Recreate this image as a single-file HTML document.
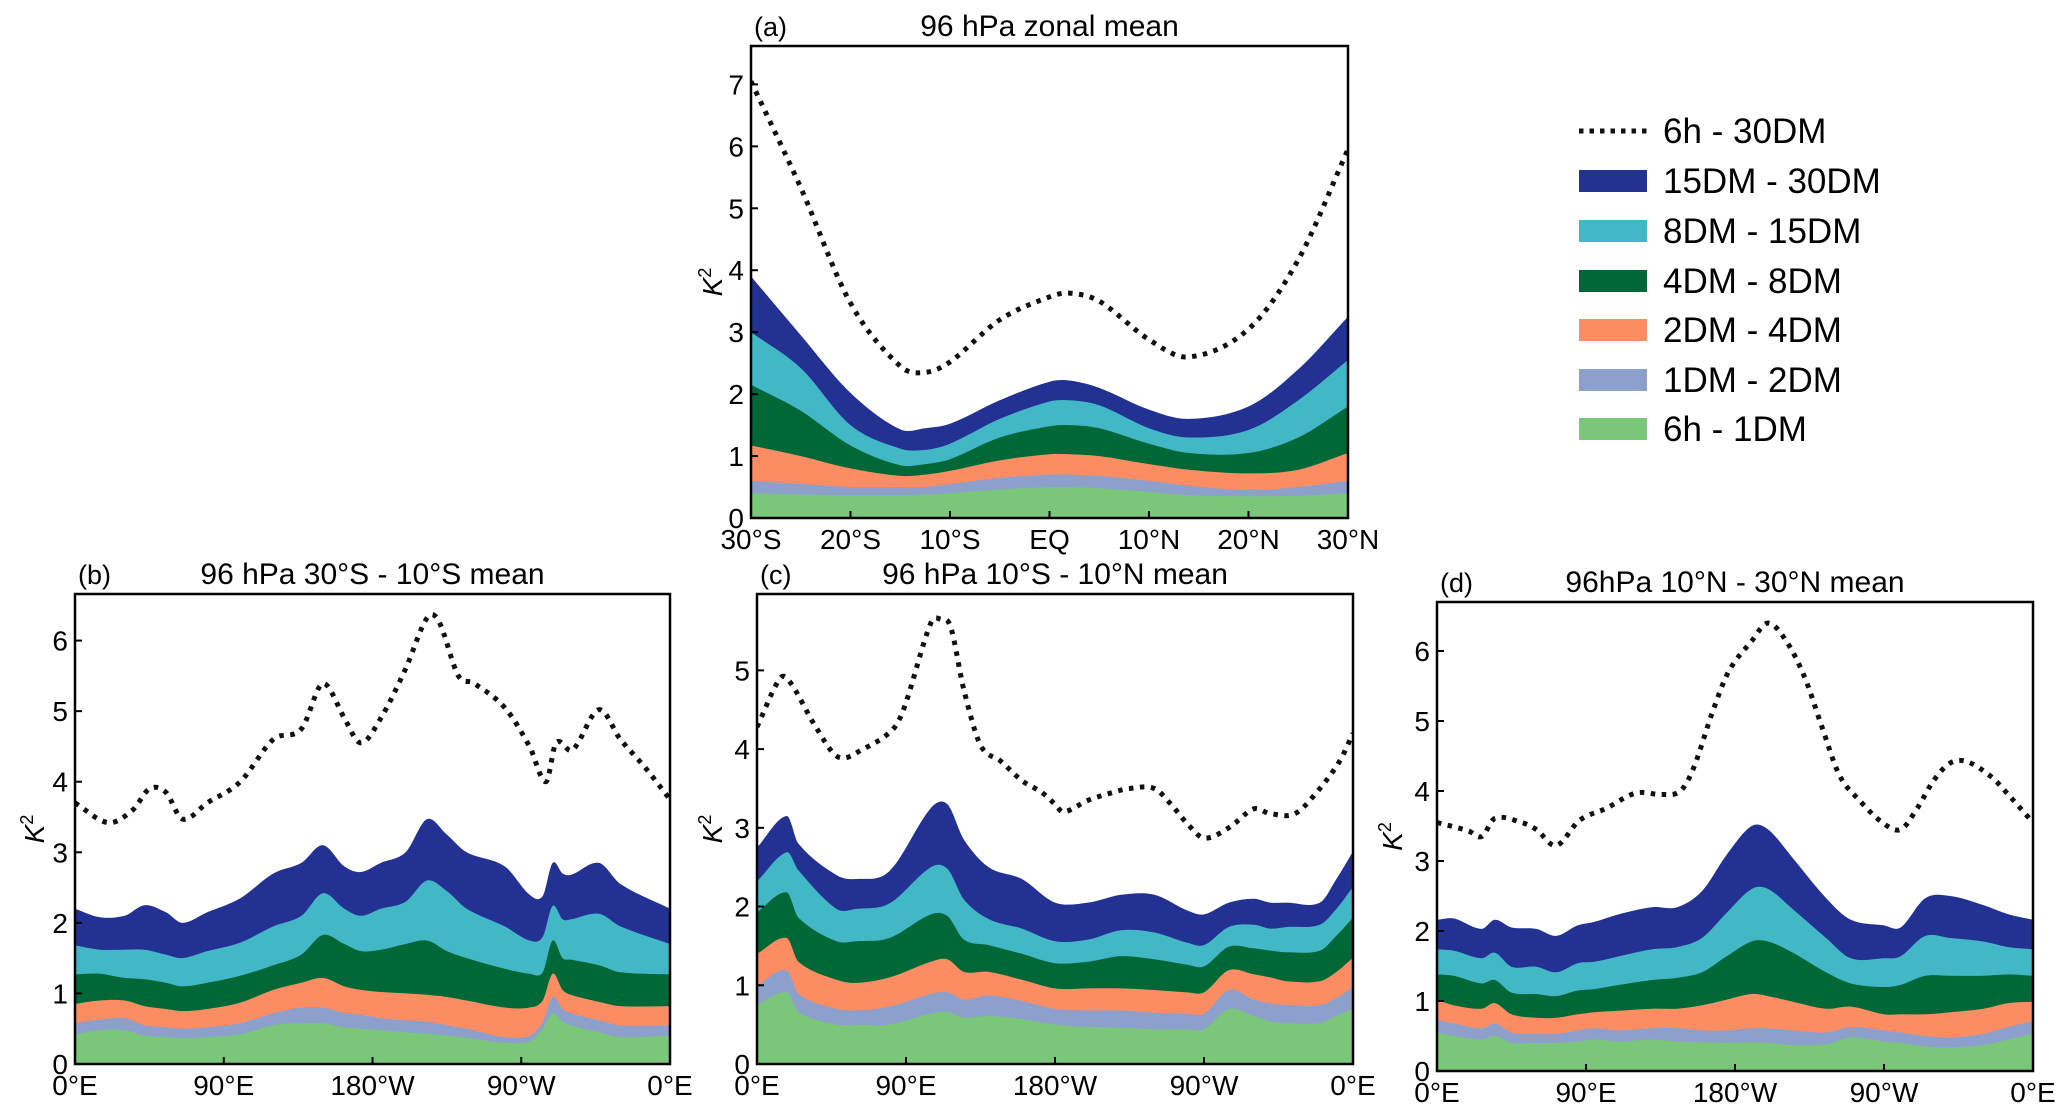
<!DOCTYPE html>
<html><head><meta charset="utf-8">
<style>
html,body{margin:0;padding:0;background:#fff;}
svg{display:block;font-family:"Liberation Sans","DejaVu Sans",sans-serif;}
</style></head>
<body>
<svg id="fig" width="2067" height="1116" viewBox="0 0 2067 1116" xmlns="http://www.w3.org/2000/svg">
<g id="legend" font-size="35">
  <g><line x1="1579" y1="131" x2="1647" y2="131" stroke="#111" stroke-width="5" stroke-dasharray="4.5 6"/><text x="1663" y="143">6h - 30DM</text></g>
  <g><rect x="1579" y="170" width="68" height="22" fill="#233292"/><text x="1663" y="193">15DM - 30DM</text></g>
  <g><rect x="1579" y="220" width="68" height="22" fill="#42b8c7"/><text x="1663" y="243">8DM - 15DM</text></g>
  <g><rect x="1579" y="270" width="68" height="22" fill="#006837"/><text x="1663" y="293">4DM - 8DM</text></g>
  <g><rect x="1579" y="319" width="68" height="22" fill="#fc8d62"/><text x="1663" y="342">2DM - 4DM</text></g>
  <g><rect x="1579" y="369" width="68" height="22" fill="#8da0cb"/><text x="1663" y="392">1DM - 2DM</text></g>
  <g><rect x="1579" y="418" width="68" height="22" fill="#7ac77a"/><text x="1663" y="441">6h - 1DM</text></g>
</g>
</svg>
<script>
// ---- Panel (a) data: zonal mean vs latitude ----
const aLat = [-30,-25,-20,-15,-12.5,-10,-5,0,2,5,10,14,20,25,30];
const aDot = [7.05,5.33,3.47,2.45,2.35,2.52,3.2,3.57,3.63,3.5,2.88,2.6,3.05,4.17,5.95];
const aNavy = [3.9,2.95,2.02,1.43,1.45,1.52,1.9,2.2,2.22,2.1,1.75,1.6,1.8,2.4,3.25];
const aCyan = [3.0,2.42,1.5,1.12,1.1,1.2,1.6,1.88,1.9,1.82,1.45,1.3,1.42,1.9,2.55];
const aGreen = [2.15,1.73,1.17,0.85,0.87,0.95,1.3,1.48,1.5,1.45,1.2,1.05,1.05,1.3,1.8];
const aOrange = [1.17,1.0,0.8,0.68,0.7,0.76,0.93,1.03,1.03,1.0,0.87,0.78,0.72,0.78,1.05];
const aLav = [0.6,0.55,0.5,0.5,0.5,0.55,0.65,0.7,0.7,0.68,0.6,0.52,0.45,0.5,0.6];
const aLg = [0.4,0.38,0.37,0.37,0.38,0.4,0.46,0.5,0.5,0.48,0.42,0.37,0.35,0.36,0.4];
const aXTicks = [-30,-20,-10,0,10,20,30];
const aXLabels = ["30°S","20°S","10°S","EQ","10°N","20°N","30°N"];
const aYTicks = [0,1,2,3,4,5,6,7];

// ---- Panel (b) data: 30S-10S mean vs longitude ----
const bDotLon = [0,20,35,45,55,65,80,100,120,137,148,153,163,173,185,200,213,220,232,241,260,275,285,291,301,317,330,345,360];
const bDot = [3.7,3.42,3.6,3.9,3.85,3.47,3.7,4.0,4.6,4.75,5.35,5.35,4.9,4.55,4.9,5.6,6.32,6.28,5.5,5.4,5.05,4.5,4.0,4.55,4.45,5.02,4.6,4.2,3.75];
const bLon = [0,15,30,42,55,65,80,100,120,137,150,163,173,185,200,213,225,237,260,275,283,289,295,300,317,330,360];
const bNavy = [2.2,2.08,2.1,2.25,2.15,2.0,2.15,2.35,2.7,2.85,3.1,2.8,2.72,2.85,3.0,3.47,3.25,3.0,2.8,2.4,2.38,2.85,2.7,2.68,2.85,2.55,2.2];
const bCyan = [1.68,1.62,1.62,1.62,1.55,1.5,1.6,1.72,1.95,2.1,2.42,2.2,2.1,2.2,2.3,2.6,2.45,2.2,1.95,1.75,1.8,2.24,2.05,2.05,2.13,1.95,1.7];
const bGreen = [1.27,1.28,1.22,1.2,1.15,1.1,1.15,1.25,1.4,1.55,1.83,1.7,1.6,1.62,1.7,1.75,1.6,1.5,1.35,1.28,1.3,1.75,1.5,1.48,1.4,1.3,1.27];
const bOrange = [0.85,0.9,0.9,0.82,0.78,0.75,0.78,0.87,1.05,1.15,1.22,1.1,1.05,1.02,1.0,0.98,0.95,0.9,0.8,0.8,0.9,1.28,1.05,0.98,0.88,0.82,0.82];
const bLav = [0.58,0.63,0.65,0.55,0.52,0.5,0.52,0.58,0.72,0.8,0.8,0.72,0.7,0.65,0.62,0.6,0.55,0.5,0.38,0.4,0.6,0.95,0.78,0.72,0.62,0.55,0.55];
const bLg = [0.42,0.48,0.48,0.4,0.38,0.37,0.38,0.42,0.55,0.58,0.58,0.52,0.5,0.48,0.45,0.43,0.4,0.37,0.3,0.32,0.5,0.72,0.6,0.55,0.45,0.38,0.4];
const bYTicks = [0,1,2,3,4,5,6];

// ---- Panel (c) data: 10S-10N mean ----
const cDotLon = [0,14,20,35,49,64,82,89,105,111,117,125,135,147,160,172,180,185,200,215,225,240,250,260,270,285,300,310,325,340,352,360];
const cDot = [4.28,4.9,4.85,4.3,3.9,4.0,4.25,4.53,5.6,5.65,5.55,4.75,4.05,3.85,3.6,3.45,3.3,3.2,3.35,3.45,3.5,3.5,3.3,3.05,2.87,3.0,3.24,3.18,3.18,3.5,3.85,4.2];
const cLon = [0,18,25,48,60,80,105,115,125,140,160,180,200,220,240,260,270,285,300,310,320,340,350,360];
const cNavy = [2.75,3.15,2.8,2.4,2.35,2.45,3.25,3.3,2.85,2.5,2.35,2.05,2.05,2.15,2.15,1.95,1.9,2.05,2.1,2.05,2.05,2.05,2.35,2.7];
const cCyan = [2.32,2.69,2.46,1.97,1.97,2.04,2.5,2.48,2.09,1.84,1.72,1.56,1.58,1.7,1.67,1.54,1.51,1.74,1.77,1.72,1.74,1.77,1.97,2.25];
const cGreen = [1.93,2.18,1.86,1.56,1.56,1.6,1.9,1.88,1.58,1.51,1.4,1.28,1.3,1.37,1.33,1.26,1.24,1.49,1.47,1.44,1.42,1.44,1.63,1.86];
const cOrange = [1.4,1.6,1.3,1.07,1.03,1.1,1.3,1.33,1.17,1.17,1.07,0.96,0.96,0.96,0.94,0.91,0.91,1.19,1.14,1.1,1.05,1.05,1.17,1.35];
const cLav = [1.0,1.19,0.89,0.7,0.68,0.73,0.89,0.91,0.82,0.87,0.8,0.7,0.68,0.68,0.65,0.64,0.64,0.94,0.82,0.77,0.75,0.75,0.84,0.98];
const cLg = [0.75,0.91,0.66,0.5,0.5,0.5,0.64,0.66,0.59,0.61,0.57,0.5,0.47,0.46,0.44,0.44,0.44,0.7,0.61,0.54,0.52,0.52,0.61,0.7];
const cYTicks = [0,1,2,3,4,5];

// ---- Panel (d) data: 10N-30N mean ----
const dDotLon = [0,19,27,35,51,60,72,86,102,120,136,147,155,166,176,190,200,211,222,232,243,255,269,280,290,300,310,320,335,345,360];
const dDot = [3.55,3.43,3.35,3.61,3.55,3.45,3.22,3.58,3.75,3.97,3.95,4.0,4.33,5.1,5.7,6.14,6.4,6.14,5.63,4.95,4.23,3.87,3.55,3.45,3.75,4.15,4.4,4.42,4.2,3.95,3.55];
const dLon = [0,10,27,35,45,60,72,85,95,110,130,145,160,175,190,200,215,235,250,270,280,295,310,330,345,360];
const dNavy = [2.16,2.18,2.03,2.16,2.05,2.03,1.93,2.08,2.13,2.24,2.34,2.34,2.57,3.09,3.5,3.45,3.04,2.47,2.16,2.08,2.05,2.47,2.5,2.37,2.24,2.16];
const dCyan = [1.74,1.72,1.61,1.69,1.49,1.49,1.41,1.54,1.56,1.64,1.74,1.77,1.9,2.26,2.6,2.6,2.31,1.9,1.61,1.61,1.64,1.93,1.9,1.85,1.77,1.74];
const dGreen = [1.38,1.36,1.25,1.3,1.12,1.1,1.07,1.15,1.17,1.23,1.3,1.33,1.41,1.64,1.85,1.85,1.69,1.41,1.25,1.2,1.23,1.36,1.36,1.36,1.38,1.36];
const dOrange = [1.02,0.94,0.89,0.97,0.81,0.76,0.76,0.81,0.84,0.86,0.89,0.89,0.94,1.02,1.1,1.07,0.99,0.89,0.92,0.81,0.81,0.81,0.84,0.89,0.97,0.99];
const dLav = [0.73,0.68,0.61,0.68,0.55,0.53,0.53,0.58,0.61,0.58,0.61,0.61,0.58,0.58,0.61,0.61,0.58,0.55,0.63,0.58,0.55,0.5,0.48,0.53,0.63,0.71];
const dLg = [0.55,0.5,0.45,0.5,0.4,0.4,0.4,0.42,0.45,0.42,0.45,0.42,0.41,0.4,0.41,0.4,0.37,0.38,0.48,0.42,0.4,0.35,0.34,0.37,0.45,0.53];
const dYTicks = [0,1,2,3,4,5,6];

const lonTicks = [0,90,180,270,360];
const lonLabels = ["0°E","90°E","180°W","90°W","0°E"];
const layerColors = ["#233292","#42b8c7","#006837","#fc8d62","#8da0cb","#7ac77a"];
const layerNames = ["band-15dm-30dm","band-8dm-15dm","band-4dm-8dm","band-2dm-4dm","band-1dm-2dm","band-6h-1dm"];

const NS = "http://www.w3.org/2000/svg";
const fig = document.getElementById("fig");

function mk(tag, attrs, parent){
  const e = document.createElementNS(NS, tag);
  for (const k in attrs) e.setAttribute(k, attrs[k]);
  parent.appendChild(e);
  return e;
}
// cubic Hermite in x (handles uneven spacing)
function smooth(pts){
  const n = pts.length;
  const m = pts.map((p, i) => {
    const a = pts[Math.max(i-1,0)], b = pts[Math.min(i+1,n-1)];
    return (b[1]-a[1]) / (b[0]-a[0]);
  });
  let d = "M" + pts[0][0].toFixed(1) + "," + pts[0][1].toFixed(1);
  for (let i = 0; i < n - 1; i++){
    const p1 = pts[i], p2 = pts[i+1], h = p2[0]-p1[0];
    const c1x = p1[0] + h/3, c1y = p1[1] + m[i]*h/3;
    const c2x = p2[0] - h/3, c2y = p2[1] - m[i+1]*h/3;
    d += " C" + c1x.toFixed(1)+","+c1y.toFixed(1)+" "+c2x.toFixed(1)+","+c2y.toFixed(1)+" "+p2[0].toFixed(1)+","+p2[1].toFixed(1);
  }
  return d;
}

function panel(p){
  const g = mk("g", {}, fig);
  
  
  const X = v => p.L + (v - p.x0) / (p.x1 - p.x0) * (p.R - p.L);
  const Y = v => p.B - v / p.ymax * (p.B - p.T);
  const clipId = "clip-" + p.name;
  const defs = mk("defs", {}, g);
  const cp = mk("clipPath", {id: clipId}, defs);
  mk("rect", {x: p.L, y: p.T, width: p.R - p.L, height: p.B - p.T}, cp);
  const plot = mk("g", {"clip-path": "url(#" + clipId + ")"}, g);
  p.layers.forEach((arr, i) => {
    const pts = arr.map((v, j) => [X(p.xs[j]), Y(v)]);
    const d = smooth(pts) + " L" + X(p.xs[p.xs.length-1]) + "," + p.B + " L" + X(p.xs[0]) + "," + p.B + " Z";
    const path = mk("path", {d: d, fill: layerColors[i], stroke: "none"}, plot);
    
    
  });
  const dpts = p.dot.map((v, j) => [X(p.dotX[j]), Y(v)]);
  const dl = mk("path", {d: smooth(dpts), fill: "none", stroke: "#111", "stroke-width": 5, "stroke-dasharray": "4.5 6.5"}, plot);
  
  
  const frame = mk("rect", {x: p.L, y: p.T, width: p.R - p.L, height: p.B - p.T, fill: "none", stroke: "#000", "stroke-width": 2.5}, g);
  
  
  p.yTicks.forEach(v => {
    mk("line", {x1: p.L, x2: p.L + 7, y1: Y(v), y2: Y(v), stroke: "#000", "stroke-width": 2}, g);
    const t = mk("text", {x: p.L - 7, y: Y(v) + 10, "text-anchor": "end", "font-size": 28}, g);
    
    
    t.textContent = String(v);
  });
  p.xTicks.forEach((v, i) => {
    mk("line", {x1: X(v), x2: X(v), y1: p.B, y2: p.B - 7, stroke: "#000", "stroke-width": 2}, g);
    const t = mk("text", {x: X(v), y: p.B + 31, "text-anchor": "middle", "font-size": 28}, g);
    
    
    t.textContent = p.xLabels[i];
  });
  const ttl = mk("text", {x: (p.L + p.R) / 2, y: p.T - 10, "text-anchor": "middle", "font-size": 30}, g);
  
  
  ttl.textContent = p.title;
  const lab = mk("text", {x: p.L + 3, y: p.T - 10, "font-size": 27}, g);
  
  
  lab.textContent = p.letter;
  const cy = (p.T + p.B) / 2;
  const yl = mk("text", {x: p.ylx, y: cy, "text-anchor": "middle", "font-size": 28, transform: "rotate(-90 " + p.ylx + " " + cy + ")"}, g);
  
  
  const k = mk("tspan", {"font-style": "italic"}, yl); k.textContent = "K";
  const s = mk("tspan", {dy: -11, "font-size": 18}, yl); s.textContent = "2";
}

panel({name:"panel-a", letter:"(a)", title:"96 hPa zonal mean", L:751, R:1348, T:46, B:518, x0:-30, x1:30, ymax:7.62,
  xs:aLat, layers:[aNavy,aCyan,aGreen,aOrange,aLav,aLg], dotX:aLat, dot:aDot,
  yTicks:aYTicks, xTicks:aXTicks, xLabels:aXLabels, ylx:722});
panel({name:"panel-b", letter:"(b)", title:"96 hPa 30°S - 10°S mean", L:75, R:670, T:594, B:1064, x0:0, x1:360, ymax:6.66,
  xs:bLon, layers:[bNavy,bCyan,bGreen,bOrange,bLav,bLg], dotX:bDotLon, dot:bDot,
  yTicks:bYTicks, xTicks:lonTicks, xLabels:lonLabels, ylx:44});
panel({name:"panel-c", letter:"(c)", title:"96 hPa 10°S - 10°N mean", L:757, R:1353, T:594, B:1064, x0:0, x1:360, ymax:5.97,
  xs:cLon, layers:[cNavy,cCyan,cGreen,cOrange,cLav,cLg], dotX:cDotLon, dot:cDot,
  yTicks:cYTicks, xTicks:lonTicks, xLabels:lonLabels, ylx:722});
panel({name:"panel-d", letter:"(d)", title:"96hPa 10°N - 30°N mean", L:1437, R:2033, T:602, B:1071, x0:0, x1:360, ymax:6.70,
  xs:dLon, layers:[dNavy,dCyan,dGreen,dOrange,dLav,dLg], dotX:dDotLon, dot:dDot,
  yTicks:dYTicks, xTicks:lonTicks, xLabels:lonLabels, ylx:1402});
</script>
</body></html>
